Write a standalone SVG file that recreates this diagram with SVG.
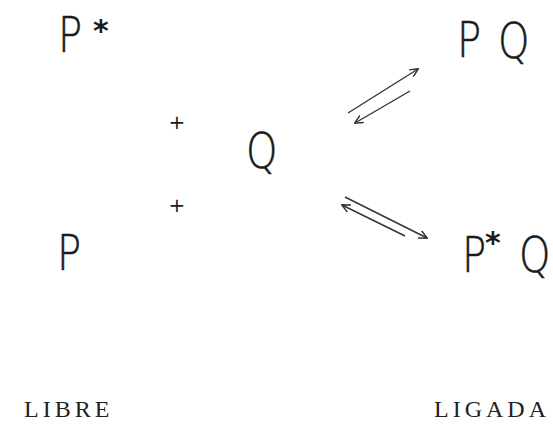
<svg xmlns="http://www.w3.org/2000/svg" width="553" height="428" viewBox="0 0 553 428">
<style>
.big{font-family:"DejaVu Sans",sans-serif;font-size:50px;font-weight:200;fill:#1a1a1a;stroke:#1a1a1a;stroke-width:0.5}
.ast{font-family:"DejaVu Sans",sans-serif;font-size:30px;font-weight:bold;fill:#1a1a1a}
.plus{font-family:"DejaVu Sans",sans-serif;font-size:20px;fill:#1a1a1a;text-anchor:middle}
.lab{font-family:"Liberation Serif",serif;font-size:24px;fill:#222;letter-spacing:4px}
.arr{stroke:#333;stroke-width:1.4;fill:none}
</style>
<defs>
<marker id="half" viewBox="0 0 10 10" refX="9" refY="5" markerWidth="9" markerHeight="9" orient="auto" markerUnits="userSpaceOnUse">
<path d="M0,0.5 L9.5,5 L0,9.5" fill="none" stroke="#333" stroke-width="1.6"/>
</marker>
</defs>
<rect width="553" height="428" fill="#fff"/>
<g id="pstar"><text class="big" transform="translate(58,52) scale(0.8,1)">P</text><text class="ast" x="93" y="41">*</text></g>
<g id="plus1"><text class="plus" x="177" y="129">+</text></g>
<g id="plus2"><text class="plus" x="177" y="212">+</text></g>
<g id="q"><text class="big" transform="translate(246,168) scale(0.8,1)">Q</text></g>
<g id="p"><text class="big" transform="translate(57,270) scale(0.8,1)">P</text></g>
<g id="pq"><text class="big" transform="translate(457,57) scale(0.8,1)">P</text><text class="big" transform="translate(498,58) scale(0.8,1)">Q</text></g>
<g id="pstarq"><text class="big" transform="translate(462,272) scale(0.8,1)">P</text><text class="ast" x="485" y="253">*</text><text class="big" transform="translate(519,272) scale(0.8,1)">Q</text></g>
<g id="connectors">
<line class="arr" x1="348" y1="113" x2="418" y2="69" marker-end="url(#half)"/>
<line class="arr" x1="410" y1="91" x2="355" y2="123" marker-end="url(#half)"/>
<line class="arr" x1="345" y1="197" x2="427" y2="238" marker-end="url(#half)"/>
<line class="arr" x1="405" y1="236" x2="342" y2="205" marker-end="url(#half)"/>
</g>
<g id="labels"><text class="lab" x="24" y="417">LIBRE</text><text class="lab" x="434" y="417">LIGADA</text></g>
</svg>
